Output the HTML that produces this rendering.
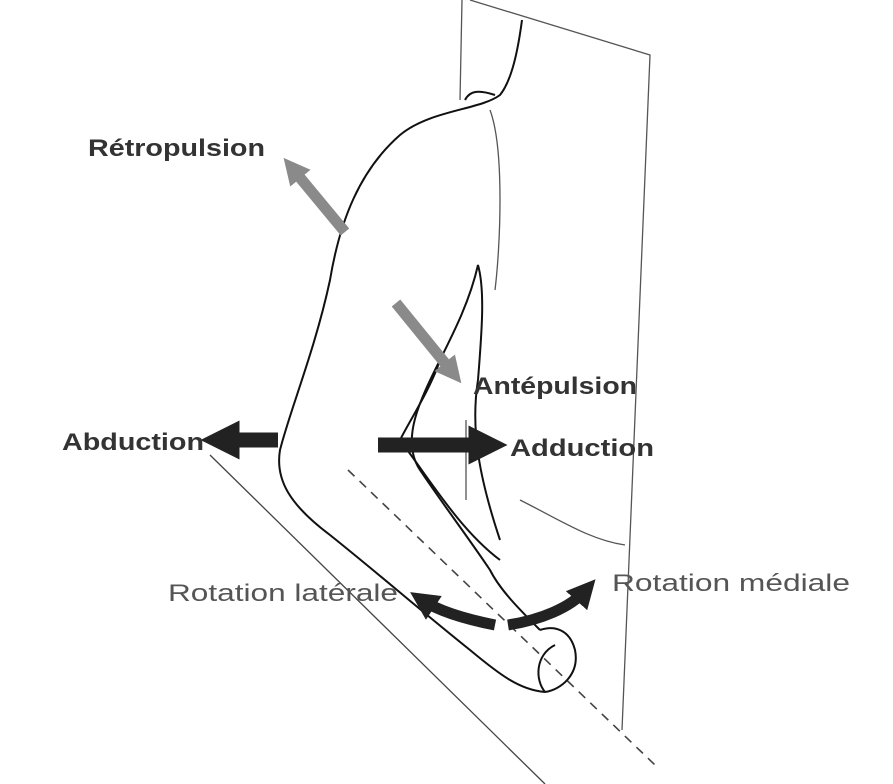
<!DOCTYPE html>
<html><head><meta charset="utf-8"><style>
html,body{margin:0;padding:0;background:#fff;}
svg{display:block;}
text{font-family:"Liberation Sans",sans-serif;}
</style></head><body>
<svg width="893" height="784" viewBox="0 0 893 784" xmlns="http://www.w3.org/2000/svg">
<defs>
<marker id="ah" viewBox="0 0 10 10" refX="5" refY="5" markerWidth="2.6" markerHeight="2.6" orient="auto"><path d="M0,0 L10,5 L0,10 z" fill="#222"/></marker>
<marker id="ahg" viewBox="0 0 10 10" refX="5" refY="5" markerWidth="2.4" markerHeight="2.4" orient="auto"><path d="M0,0 L10,5 L0,10 z" fill="#8a8a8a"/></marker>
</defs>
<g stroke="#555" stroke-width="1.3" fill="none">
<path d="M470,0 L650,55 L622,730"/>
<path d="M462,0 L460,100"/>
<path d="M466,420 L466,500"/>
<path d="M490,110 C505,150 500,250 495,290"/>
<path d="M520,500 C560,520 590,540 625,545"/>
</g>
<g stroke="#444" stroke-width="1.3" fill="none">
<path d="M210,455 L545,784"/>
<path d="M348,470 L655,765" stroke-dasharray="9,7" stroke-width="1.6"/>
</g>
<g stroke="#111" stroke-width="2" fill="none">
<path d="M522,20 C518,50 512,80 500,95 C480,110 430,110 400,135 C360,170 340,220 330,280 C315,350 290,410 280,450 C275,480 290,505 330,535 C380,575 420,610 470,650 C500,675 520,690 545,692"/>
<path d="M545,692 C560,690 580,675 575,650 C570,630 555,625 540,630"/>
<path d="M540,630 C520,610 500,590 490,570 C470,540 440,500 420,470 C400,440 420,400 440,360 C455,330 470,300 478,265 C485,290 482,330 478,380"/>
<path d="M440,360 C430,390 410,420 400,440"/>
<path d="M478,380 C470,430 480,480 500,540"/>
<path d="M400,440 C430,480 460,530 500,560"/>
<path d="M545,692 C535,680 535,655 555,645"/>
<path d="M465,100 C470,90 480,90 495,95"/>
</g>
<g fill="none">
<line x1="345" y1="232" x2="292" y2="168" stroke="#8a8a8a" stroke-width="11" marker-end="url(#ahg)"/>
<line x1="396" y1="303" x2="453" y2="373" stroke="#8a8a8a" stroke-width="11" marker-end="url(#ahg)"/>
<line x1="278" y1="440" x2="220" y2="440" stroke="#222" stroke-width="15" marker-end="url(#ah)"/>
<line x1="378" y1="445" x2="488" y2="445" stroke="#222" stroke-width="15" marker-end="url(#ah)"/>
<path d="M495,625 C470,620 440,612 422,600" stroke="#222" stroke-width="11" marker-end="url(#ah)"/>
<path d="M508,625 C540,620 570,608 586,590" stroke="#222" stroke-width="11" marker-end="url(#ah)"/>
</g>
<g fill="#333" font-size="24" lengthAdjust="spacingAndGlyphs">
<text x="88" y="156" font-weight="bold" textLength="177" lengthAdjust="spacingAndGlyphs">Rétropulsion</text>
<text x="473" y="394" font-weight="bold" textLength="164" lengthAdjust="spacingAndGlyphs">Antépulsion</text>
<text x="62" y="450" font-weight="bold" textLength="142" lengthAdjust="spacingAndGlyphs">Abduction</text>
<text x="510" y="456" font-weight="bold" textLength="144" lengthAdjust="spacingAndGlyphs">Adduction</text>
<text x="168" y="601" fill="#555" textLength="230" lengthAdjust="spacingAndGlyphs">Rotation latérale</text>
<text x="612" y="591" fill="#555" textLength="238" lengthAdjust="spacingAndGlyphs">Rotation médiale</text>
</g>
</svg>
</body></html>
